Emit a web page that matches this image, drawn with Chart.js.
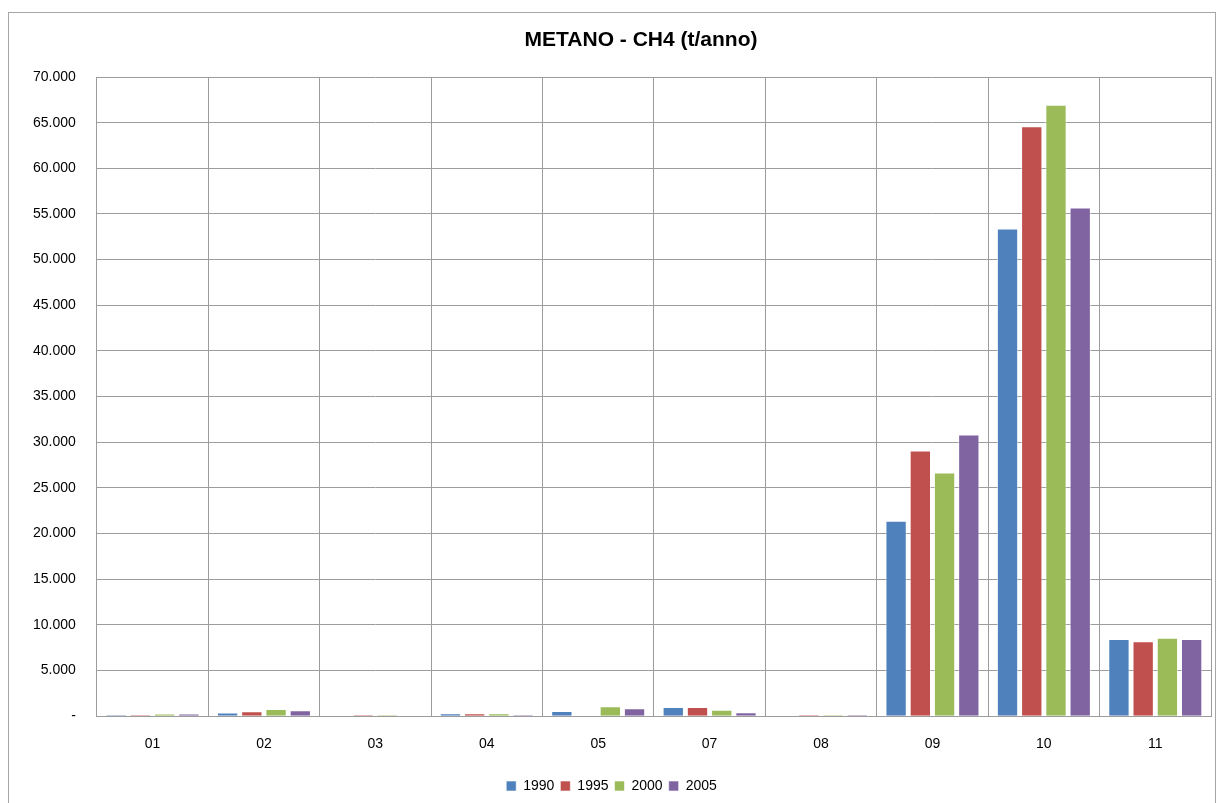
<!DOCTYPE html>
<html>
<head>
<meta charset="utf-8">
<script src="https://cdn.jsdelivr.net/npm/chart.js@4/dist/chart.umd.min.js"></script>
<style>
  html, body { margin: 0; padding: 0; background: #fff; }
  #frame {
    position: absolute; left: 8px; top: 12px;
    width: 1208px; height: 795px;
    border: 1px solid #a6a6a6; box-sizing: border-box;
  }
  #wrap { position: absolute; left: 0; top: 0; width: 1206px; height: 793px; }
</style>
</head>
<body>
<div id="frame"><div id="wrap"><canvas id="chart"></canvas></div></div>
<script>
const categories = ['01', '02', '03', '04', '05', '07', '08', '09', '10', '11'];
const years = ['1990', '1995', '2000', '2005'];
const values1990 = [150, 400, 0, 330, 580, 1020, 0, 21400, 53400, 8450];
const values1995 = [150, 550, 150, 330, 0, 1000, 150, 29100, 64600, 8200];
const values2000 = [300, 800, 150, 330, 1100, 700, 150, 26700, 66950, 8600];
const values2005 = [300, 660, 0, 160, 880, 440, 150, 30850, 55700, 8450];
const colors = ['#4f81bd', '#c0504d', '#9bbb59', '#8064a2'];
const titleText = 'METANO - CH4 (t/anno)';

const series = [values1990, values1995, values2000, values2005];

function fmt(v) {
  if (v === 0) return '-';
  return String(v).replace(/\B(?=(\d{3})+(?!\d))/g, '.');
}

const font = "'Liberation Sans', 'DejaVu Sans', sans-serif";

// title sits a bit right of the canvas centre, like the excel original
const titlePlugin = {
  id: 'offsetTitle',
  afterDraw(chart) {
    const ctx = chart.ctx;
    ctx.save();
    ctx.font = 'bold 21px ' + font;
    ctx.fillStyle = '#000';
    ctx.textAlign = 'center';
    ctx.textBaseline = 'middle';
    ctx.fillText(titleText, chart.width / 2 + 29, 27);
    ctx.restore();
  }
};

new Chart(document.getElementById('chart'), {
  type: 'bar',
  data: {
    labels: categories,
    datasets: years.map((y, i) => ({
      label: y,
      data: series[i],
      backgroundColor: colors[i],
      borderColor: 'rgba(255,255,255,0.6)',
      borderWidth: 1,
      categoryPercentage: 0.87,
      barPercentage: 0.88
    }))
  },
  options: {
    animation: false,
    responsive: true,
    maintainAspectRatio: false,
    layout: { padding: { left: 3, right: 4, top: 64, bottom: 3 } },
    plugins: {
      title: { display: false },
      legend: {
        position: 'bottom',
        labels: {
          color: '#000',
          font: { family: font, size: 14 },
          boxWidth: 10, boxHeight: 10,
          padding: 6
        }
      },
      tooltip: { enabled: false }
    },
    scales: {
      x: {
        grid: { color: '#9c9c9c', lineWidth: 1, drawTicks: false },
        border: { color: '#9c9c9c' },
        ticks: { color: '#000', font: { family: font, size: 14 }, padding: 20 }
      },
      y: {
        min: 0, max: 70000,
        grid: { color: '#9c9c9c', lineWidth: 1, drawTicks: false },
        border: { color: '#9c9c9c' },
        ticks: {
          stepSize: 5000,
          color: '#000',
          font: { family: font, size: 14 },
          padding: 21,
          callback: (v) => fmt(v)
        }
      }
    }
  },
  plugins: [titlePlugin]
});
</script>
</body>
</html>
